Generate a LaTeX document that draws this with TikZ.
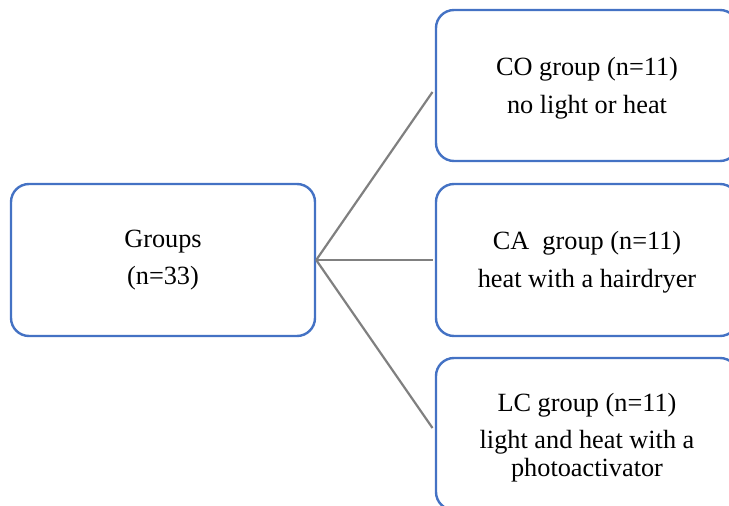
\documentclass[tikz,border=0pt]{standalone}
\usepackage{fontspec}
\setmainfont{Liberation Serif}
\definecolor{boxblue}{HTML}{4472C4}
\definecolor{linegray}{HTML}{808080}
\tikzset{
  gbox/.style={draw=boxblue, line width=2.4pt, rounded corners=18pt, fill=white,
    align=center, inner sep=0pt, font=\fontsize{26.3}{29}\selectfont},
  conn/.style={draw=linegray, line width=2.2pt}
}
\begin{document}
\begin{tikzpicture}[x=1pt,y=-1pt]
\useasboundingbox (0,0) rectangle (729,506);
\clip (0,0) rectangle (729,506);
\node[gbox, minimum width=304pt, minimum height=152pt] (grp) at (163,260)
  {Groups\\[8pt](n=33)};
\node[gbox, minimum width=302pt, minimum height=151pt] (co) at (587,85.5)
  {\rule{0pt}{23pt}CO group (n=11)\\[9pt]no light or heat};
\node[gbox, minimum width=302pt, minimum height=152pt] (ca) at (587,260)
  {\rule{0pt}{22pt}CA\ \ group (n=11)\\[9pt]heat with a hairdryer};
\node[gbox, minimum width=302pt, minimum height=152pt] (lc) at (587,434)
  {\rule{0pt}{25pt}LC group (n=11)\\[8pt]light and heat with a\\[-1pt]photoactivator};
\coordinate (coend) at (432.5,92);
\coordinate (caend) at (432.5,260);
\coordinate (lcend) at (432.5,428);
\draw[conn] (grp.east) -- (coend);
\draw[conn] (grp.east) -- (caend);
\draw[conn] (grp.east) -- (lcend);
\end{tikzpicture}
\end{document}
